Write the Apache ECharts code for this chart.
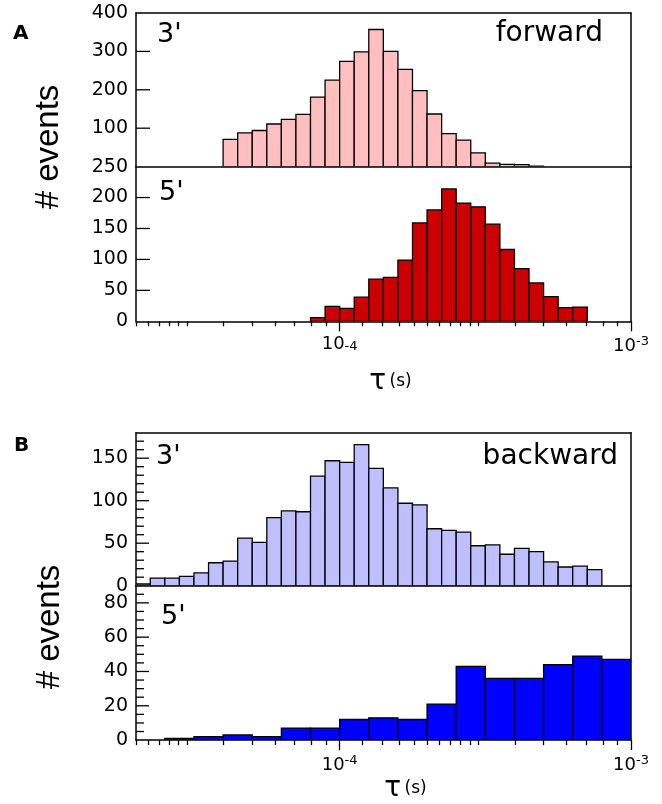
<!DOCTYPE html>
<html>
<head>
<meta charset="utf-8">
<script src="https://cdn.jsdelivr.net/npm/echarts@6/dist/echarts.min.js"></script>
<style>
html, body { margin: 0; padding: 0; background: #fff; }
#chart { width: 662px; height: 804px; }
</style>
</head>
<body>
<div id="chart"></div>
<script>
// x range (tau, seconds), log scale
var tauMin = 2e-5, tauMax = 1e-3;

// histogram bins: log10 of first left edge, log10 bin width, counts
var fwd3Start = -4.4, fwd3Width = 0.05;
var fwd3Counts = [71, 88, 94, 111, 123, 136, 181, 225, 274, 299, 357, 300, 253, 198, 137, 86, 69, 36, 9, 6, 5, 1];

var fwd5Start = -4.1, fwd5Width = 0.05;
var fwd5Counts = [6, 24, 21, 39, 68, 71, 99, 159, 180, 214, 191, 185, 157, 116, 85, 62, 40, 22, 23];

var bwd3Start = -4.7, bwd3Width = 0.05;
var bwd3Counts = [2, 9, 9, 11, 15, 27, 29, 56, 51, 80, 88, 87, 129, 147, 145, 166, 138, 115, 97, 95, 67, 65, 63, 47, 48, 37, 44, 40, 28, 22, 23, 19];

var bwd5Start = -4.6, bwd5Width = 0.1;
var bwd5Counts = [1, 2, 3, 2, 7, 7, 12, 13, 12, 21, 43, 36, 36, 44, 49, 47];

// x tick marks
var majorTicks = [1e-4, 1e-3];
var minorMantissa = [1.2, 1.4, 1.6, 1.8, 2, 2.2, 2.4, 2.6, 2.8, 3, 4, 5, 6, 7, 8, 9];
var tickDecades = [-5, -4];

// y tick marks (inside)
var fwd3YTicks = [100, 200, 300];
var fwd5YTicks = [50, 100, 150, 200];
var bwd3YMajor = [50, 100, 150];
var bwd3YMinor = [10, 20, 30, 40, 60, 70, 80, 90, 110, 120, 130, 140, 160, 170];
var bwd5YMajor = [20, 40, 60, 80];
var bwd5YMinor = [5, 10, 15, 25, 30, 35, 45, 50, 55, 65, 70, 75, 85];

var font = 'DejaVu Sans';
var black = {color: '#000', width: 1.5};
var plotW = 495;

// 生成直方图数据 [左边界, 右边界, 计数]
function binData(start, width, counts){
	var out = [];
	for(var i = 0; i < counts.length; i++){
		out.push([Math.pow(10, start + i*width), Math.pow(10, start + (i+1)*width), counts[i]]);
	}
	return out;
}

var minorTicks = [];
for(var d = 0; d < tickDecades.length; d++){
	for(var m = 0; m < minorMantissa.length; m++){
		minorTicks.push(minorMantissa[m] * Math.pow(10, tickDecades[d]));
	}
}

function renderBar(params, api){
	var lo = api.value(0), hi = api.value(1), n = api.value(2);
	var p0 = api.coord([lo, n]);
	var p1 = api.coord([hi, 0]);
	return {
		type: 'rect',
		shape: {x: p0[0], y: p0[1], width: p1[0]-p0[0], height: p1[1]-p0[1]},
		style: {fill: api.visual('color'), stroke: '#000', lineWidth: 1.3}
	};
}

// 左轴内侧刻度
function tickSeries(xi, yi, values, len){
	return {type: 'custom', xAxisIndex: xi, yAxisIndex: yi, silent: true, clip: false, z: 5,
		encode: {x: 0, y: 1},
		data: values.map(function(v){ return [tauMin, v]; }),
		renderItem: function(params, api){
			var p = api.coord([api.value(0), api.value(1)]);
			return {type: 'line', shape: {x1: p[0], y1: p[1], x2: p[0] + len, y2: p[1]},
				style: {stroke: '#000', lineWidth: 1.3}};
		}};
}

function expLabel(val, subStyle){
	var e = Math.round(Math.log(val)/Math.LN10);
	return '{b|10}{' + subStyle + '|' + e + '}';
}

var xRich = {
	b: {fontSize: 18, fontFamily: font, color: '#000'},
	sup: {fontSize: 13, fontFamily: font, color: '#000', verticalAlign: 'top', padding: [0, 0, 9, 0]},
	sub: {fontSize: 13, fontFamily: font, color: '#000', verticalAlign: 'bottom'}
};
var nameRich = {
	t: {fontSize: 28, fontFamily: font, color: '#000'},
	s: {fontSize: 17, fontFamily: font, color: '#000'}
};

// x轴：无刻度 / 次刻度 / 主刻度+标签
function xPlain(grid, pos){
	return {type: 'log', gridIndex: grid, min: tauMin, max: tauMax, position: pos,
		axisLine: {onZero: false, lineStyle: black}, axisTick: {show: false},
		axisLabel: {show: false}, splitLine: {show: false}};
}
function xMinor(grid){
	return {type: 'log', gridIndex: grid, min: tauMin, max: tauMax, position: 'bottom',
		axisLine: {onZero: false, lineStyle: black},
		axisTick: {show: true, customValues: minorTicks, length: 5, lineStyle: {color: '#000', width: 1.3}},
		axisLabel: {show: false}, splitLine: {show: false}};
}
function xMajor(grid, firstSub, nameGap, namePad){
	return {type: 'log', gridIndex: grid, min: tauMin, max: tauMax, position: 'bottom',
		axisLine: {show: false, onZero: false},
		axisTick: {show: true, customValues: majorTicks, length: 10, lineStyle: {color: '#000', width: 1.3}},
		axisLabel: {customValues: majorTicks, margin: 14, rich: xRich,
			formatter: function(v){
				if(firstSub && v < 5e-4) return expLabel(v, 'sub');
				return expLabel(v, 'sup');
			}},
		splitLine: {show: false},
		name: '{t|τ} {s|(s)}', nameLocation: 'middle', nameGap: nameGap,
		nameTextStyle: {rich: nameRich, padding: [0, 0, 0, namePad]}};
}

// 左侧y轴：轴线+标签
function yMain(grid, max, interval, labelFn, showMin){
	return {type: 'value', gridIndex: grid, min: 0, max: max, interval: interval, position: 'left',
		axisLine: {show: true, onZero: false, lineStyle: black},
		axisTick: {show: false},
		axisLabel: {fontSize: 19, fontFamily: font, color: '#000', margin: 8,
			showMinLabel: showMin, showMaxLabel: labelFn ? false : true,
			formatter: labelFn || null},
		splitLine: {show: false}};
}
function yRight(grid, max){
	return {type: 'value', gridIndex: grid, min: 0, max: max, position: 'right',
		axisLine: {show: true, onZero: false, lineStyle: black},
		axisTick: {show: false}, axisLabel: {show: false}, splitLine: {show: false}};
}

function grid(top, height){
	return {show: false, left: 136, width: plotW, top: top, height: height};
}

var chart = echarts.init(document.getElementById('chart'), null, {renderer: 'canvas'});
var option = {
	animation: false,
	backgroundColor: '#fff',
	grid: [grid(13, 153.6), grid(166.6, 154.7), grid(432.7, 153), grid(585.7, 155.1)],
	xAxis: [
		xPlain(0, 'bottom'),
		xMinor(1),
		xMajor(1, true, 46, 14),
		xPlain(2, 'bottom'),
		xMinor(3),
		xMajor(3, false, 32, 44),
		xPlain(0, 'top'),
		xPlain(2, 'top')
	],
	yAxis: [
		yMain(0, 400, 100, null, false),
		yMain(1, 250, 50, null, true),
		yMain(2, 180, 10, function(v){ return (v % 50 === 0 && v <= 150) ? v : ''; }, true),
		yMain(3, 90, 5, function(v){ return (v % 20 === 0 && v <= 80) ? v : ''; }, true),
		yRight(0, 400),
		yRight(1, 250),
		yRight(2, 180),
		yRight(3, 90)
	],
	series: [
		{type: 'custom', xAxisIndex: 0, yAxisIndex: 0, clip: true, renderItem: renderBar,
			itemStyle: {color: '#ffbfbf'}, encode: {x: [0, 1], y: 2}, data: binData(fwd3Start, fwd3Width, fwd3Counts)},
		{type: 'custom', xAxisIndex: 1, yAxisIndex: 1, clip: true, renderItem: renderBar,
			itemStyle: {color: '#cc0000'}, encode: {x: [0, 1], y: 2}, data: binData(fwd5Start, fwd5Width, fwd5Counts)},
		{type: 'custom', xAxisIndex: 3, yAxisIndex: 2, clip: true, renderItem: renderBar,
			itemStyle: {color: '#bfbfff'}, encode: {x: [0, 1], y: 2}, data: binData(bwd3Start, bwd3Width, bwd3Counts)},
		{type: 'custom', xAxisIndex: 4, yAxisIndex: 3, clip: true, renderItem: renderBar,
			itemStyle: {color: '#0000ff'}, encode: {x: [0, 1], y: 2}, data: binData(bwd5Start, bwd5Width, bwd5Counts)},
		tickSeries(0, 0, fwd3YTicks, 14),
		tickSeries(1, 1, fwd5YTicks, 14),
		tickSeries(3, 2, bwd3YMajor, 13),
		tickSeries(3, 2, bwd3YMinor, 8),
		tickSeries(4, 3, bwd5YMajor, 13),
		tickSeries(4, 3, bwd5YMinor, 8)
	],
	graphic: [
		{type: 'text', left: 13, top: 24, style: {text: 'A', font: 'bold 20px "DejaVu Sans"', fill: '#000'}},
		{type: 'text', left: 14, top: 436, style: {text: 'B', font: 'bold 20px "DejaVu Sans"', fill: '#000'}},
		{type: 'text', x: 49, y: 147, rotation: Math.PI/2,
			style: {text: '# events', font: '33px "Liberation Sans"', fill: '#000', align: 'center', verticalAlign: 'middle'}},
		{type: 'text', x: 50, y: 627, rotation: Math.PI/2,
			style: {text: '# events', font: '33px "Liberation Sans"', fill: '#000', align: 'center', verticalAlign: 'middle'}},
		{type: 'text', x: 157, y: 35, style: {text: "3'", font: '27px "DejaVu Sans"', fill: '#000', verticalAlign: 'middle'}},
		{type: 'text', x: 603, y: 34, style: {text: 'forward', font: '28px "DejaVu Sans"', fill: '#000', align: 'right', verticalAlign: 'middle'}},
		{type: 'text', x: 159, y: 193, style: {text: "5'", font: '27px "DejaVu Sans"', fill: '#000', verticalAlign: 'middle'}},
		{type: 'text', x: 156, y: 457, style: {text: "3'", font: '27px "DejaVu Sans"', fill: '#000', verticalAlign: 'middle'}},
		{type: 'text', x: 618, y: 457, style: {text: 'backward', font: '28px "DejaVu Sans"', fill: '#000', align: 'right', verticalAlign: 'middle'}},
		{type: 'text', x: 161, y: 617, style: {text: "5'", font: '27px "DejaVu Sans"', fill: '#000', verticalAlign: 'middle'}}
	]
};
chart.setOption(option);
</script>
</body>
</html>
